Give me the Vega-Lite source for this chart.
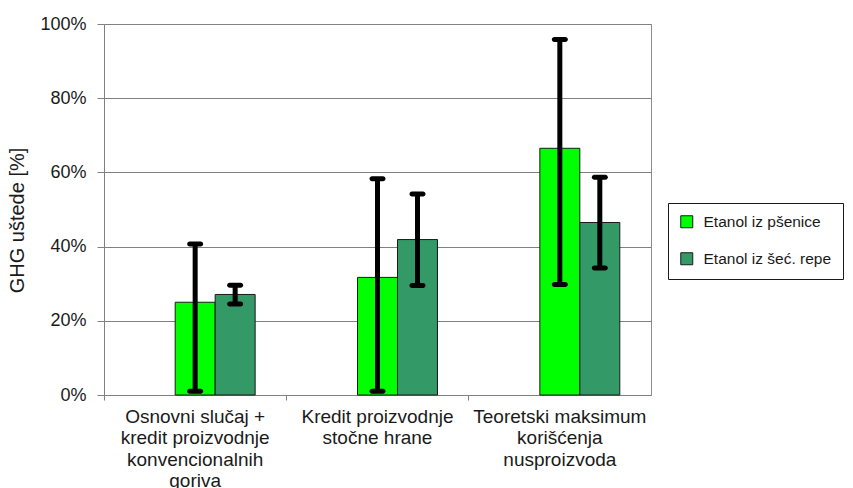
{
  "$schema": "https://vega.github.io/schema/vega-lite/v6.json",
  "width": 547,
  "height": 371,
  "autosize": {"type": "none"},
  "padding": {"left": 104, "top": 24, "right": 202, "bottom": 93},
  "background": "white",
  "config": {
    "font": "Liberation Sans",
    "view": {"stroke": "#8c8c8c", "strokeWidth": 1}
  },
  "data": {
    "values": [
      {"kategorija": "Osnovni slučaj +|kredit proizvodnje|konvencionalnih|goriva", "serija": "Etanol iz pšenice", "vrijednost": 25.0, "min": 1.0, "max": 40.7},
      {"kategorija": "Osnovni slučaj +|kredit proizvodnje|konvencionalnih|goriva", "serija": "Etanol iz šeć. repe", "vrijednost": 27.1, "min": 24.5, "max": 29.6},
      {"kategorija": "Kredit proizvodnje|stočne hrane", "serija": "Etanol iz pšenice", "vrijednost": 31.7, "min": 1.0, "max": 58.3},
      {"kategorija": "Kredit proizvodnje|stočne hrane", "serija": "Etanol iz šeć. repe", "vrijednost": 41.9, "min": 29.5, "max": 54.2},
      {"kategorija": "Teoretski maksimum|korišćenja|nusproizvoda", "serija": "Etanol iz pšenice", "vrijednost": 66.5, "min": 29.8, "max": 95.8},
      {"kategorija": "Teoretski maksimum|korišćenja|nusproizvoda", "serija": "Etanol iz šeć. repe", "vrijednost": 46.5, "min": 34.2, "max": 58.7}
    ]
  },
  "encoding": {
    "x": {
      "field": "kategorija",
      "type": "nominal",
      "sort": null,
      "scale": {"paddingInner": 0, "paddingOuter": 0},
      "axis": {
        "title": null,
        "bandPosition": 0,
        "labelAngle": 0,
        "labelExpr": "split(datum.label, '|')",
        "labelFontSize": 19,
        "labelLineHeight": 21.5,
        "labelColor": "#1a1a1a",
        "labelPadding": 7,
        "labelBaseline": "top",
        "tickSize": 5,
        "tickColor": "#808080",
        "domainColor": "#808080",
        "grid": false
      }
    },
    "xOffset": {
      "field": "serija",
      "type": "nominal",
      "scale": {
        "domain": ["", "Etanol iz pšenice", "Etanol iz šeć. repe"],
        "paddingInner": 0,
        "paddingOuter": 0.78
      }
    }
  },
  "layer": [
    {
      "mark": {"type": "bar", "stroke": "#1a1a1a", "strokeWidth": 1},
      "encoding": {
        "y": {
          "field": "vrijednost",
          "type": "quantitative",
          "scale": {"domain": [0, 100]},
          "axis": {
            "title": "GHG uštede [%]",
            "titleFontSize": 20,
            "titleFontWeight": "normal",
            "titleColor": "#1a1a1a",
            "titlePadding": 12,
            "titleY": 196,
            "values": [0, 20, 40, 60, 80, 100],
            "labelExpr": "datum.value + '%'",
            "labelFontSize": 18,
            "labelColor": "#1a1a1a",
            "labelPadding": 11,
            "tickSize": 7,
            "tickColor": "#808080",
            "domainColor": "#808080",
            "gridColor": "#808080",
            "gridOpacity": 1
          }
        },
        "color": {
          "field": "serija",
          "type": "nominal",
          "scale": {
            "domain": ["Etanol iz pšenice", "Etanol iz šeć. repe"],
            "range": ["#00ff00", "#339966"]
          },
          "legend": {
            "title": null,
            "orient": "none",
            "legendX": 564,
            "legendY": 179,
            "direction": "vertical",
            "strokeColor": "#1a1a1a",
            "fillColor": "white",
            "padding": 11,
            "rowPadding": 19,
            "symbolType": "square",
            "symbolSize": 144,
            "symbolStrokeColor": "#1a1a1a",
            "symbolStrokeWidth": 1,
            "symbolOpacity": 1,
            "labelFontSize": 15.5,
            "labelColor": "#1a1a1a",
            "labelOffset": 9
          }
        }
      }
    },
    {
      "mark": {"type": "rule", "strokeWidth": 5, "color": "black"},
      "encoding": {
        "y": {"field": "min", "type": "quantitative"},
        "y2": {"field": "max"}
      }
    },
    {
      "mark": {"type": "tick", "thickness": 5, "size": 16, "color": "black", "cornerRadius": 2.5, "opacity": 1},
      "encoding": {"y": {"field": "min", "type": "quantitative"}}
    },
    {
      "mark": {"type": "tick", "thickness": 5, "size": 16, "color": "black", "cornerRadius": 2.5, "opacity": 1},
      "encoding": {"y": {"field": "max", "type": "quantitative"}}
    }
  ]
}
